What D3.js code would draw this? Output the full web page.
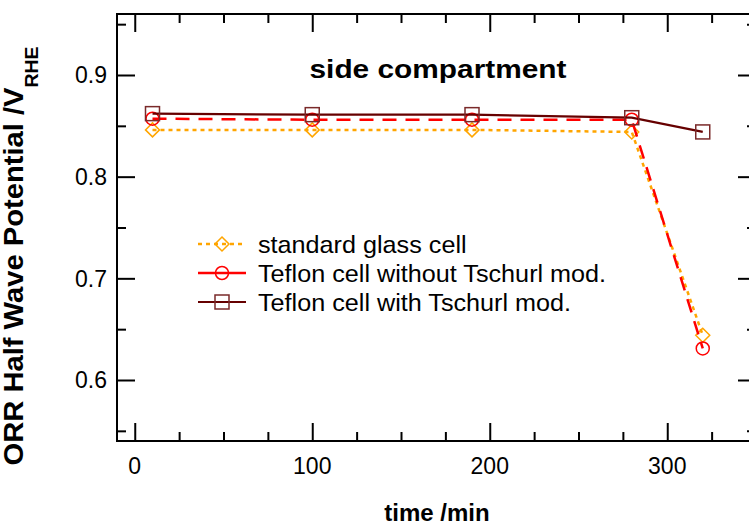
<!DOCTYPE html>
<html>
<head>
<meta charset="utf-8">
<script src="https://cdn.jsdelivr.net/npm/d3@7"></script>
<style>
  html, body { margin: 0; padding: 0; background: #fff; }
  svg { display: block; font-family: "Liberation Sans", Arial, Helvetica, sans-serif; }
</style>
</head>
<body>
<svg id="chart" width="749" height="527"></svg>
<script>
// ---- data ----
const times = [10, 100, 190, 280, 320];
const standardGlass = [0.846, 0.846, 0.846, 0.844, 0.644];
const teflonWithout = [0.857, 0.856, 0.856, 0.856, 0.631];
const teflonWith = [0.862, 0.861, 0.861, 0.858, 0.844];
const seriesNames = ["standard glass cell", "Teflon cell without Tschurl mod.", "Teflon cell with Tschurl mod."];
const xMajorTicks = [0, 100, 200, 300];
const yMajorTicks = [0.6, 0.7, 0.8, 0.9];
const titleText = "side compartment";
const xLabel = "time /min";
const yLabelMain = "ORR Half Wave Potential /V";
const yLabelSub = "RHE";

const svg = d3.select("#chart");
const L = 117, R = 756, T = 14, B = 441;
const x = d3.scaleLinear().domain([-10, 350]).range([L, R]);
const y = d3.scaleLinear().domain([0.54, 0.96]).range([B, T]);

const xMinor = d3.range(0, 351, 25).filter(v => !xMajorTicks.includes(v));
const yMinor = [0.55, 0.65, 0.75, 0.85, 0.95];

// axes (library axes, ticks pointing inward)
const major = 18, minor = 9;
function styleAxis(g) {
  g.select(".domain").remove();
  g.selectAll(".tick line").attr("stroke", "#000").attr("stroke-width", 2);
  g.selectAll(".tick text").remove();
}
svg.append("g").attr("transform", `translate(0,${B})`)
  .call(d3.axisBottom(x).tickValues(xMajorTicks).tickSize(-major)).call(styleAxis);
svg.append("g").attr("transform", `translate(0,${B})`)
  .call(d3.axisBottom(x).tickValues(xMinor).tickSize(-minor)).call(styleAxis);
svg.append("g").attr("transform", `translate(0,${T})`)
  .call(d3.axisTop(x).tickValues(xMajorTicks).tickSize(-major)).call(styleAxis);
svg.append("g").attr("transform", `translate(0,${T})`)
  .call(d3.axisTop(x).tickValues(xMinor).tickSize(-minor)).call(styleAxis);
svg.append("g").attr("transform", `translate(${L},0)`)
  .call(d3.axisLeft(y).tickValues(yMajorTicks).tickSize(-major)).call(styleAxis);
svg.append("g").attr("transform", `translate(${L},0)`)
  .call(d3.axisLeft(y).tickValues(yMinor).tickSize(-minor)).call(styleAxis);
svg.append("g").attr("transform", `translate(${R},0)`)
  .call(d3.axisRight(y).tickValues(yMajorTicks).tickSize(-major)).call(styleAxis);
svg.append("g").attr("transform", `translate(${R},0)`)
  .call(d3.axisRight(y).tickValues(yMinor).tickSize(-minor)).call(styleAxis);

// frame
svg.append("rect").attr("x", L).attr("y", T).attr("width", R - L).attr("height", B - T)
  .attr("fill", "none").attr("stroke", "#000").attr("stroke-width", 2);

// tick labels
svg.append("g").selectAll("text").data(xMajorTicks).join("text")
  .attr("x", d => x(d)).attr("y", 474).attr("text-anchor", "middle")
  .attr("font-size", 23).attr("fill", "#000").text(d => d);
svg.append("g").selectAll("text").data(yMajorTicks).join("text")
  .attr("x", 107).attr("y", d => y(d)).attr("dy", "0.36em").attr("text-anchor", "end")
  .attr("font-size", 23).attr("fill", "#000").text(d => d.toFixed(1));

// axis titles
svg.append("text").attr("x", 437).attr("y", 521).attr("text-anchor", "middle")
  .attr("font-size", 24).attr("font-weight", "bold").attr("fill", "#000").text(xLabel);

const yl = svg.append("text")
  .attr("transform", "translate(23,256) rotate(-90) scale(1.08,1)")
  .attr("text-anchor", "middle").attr("font-size", 27).attr("font-weight", "bold").attr("fill", "#000");
yl.append("tspan").text(yLabelMain);
yl.append("tspan").attr("font-size", 18).attr("dy", 15).text(yLabelSub);

// title
svg.append("text").attr("x", 438).attr("y", 78).attr("text-anchor", "middle")
  .attr("font-size", 26).attr("font-weight", "bold").attr("fill", "#000")
  .attr("textLength", 257).attr("lengthAdjust", "spacingAndGlyphs").text(titleText);

// series
const series = [
  { name: seriesNames[0], values: standardGlass, line: "#FFA500", marker: "#FFA500", dash: "4,4", shape: "diamond", lw: 2.5 },
  { name: seriesNames[1], values: teflonWithout, line: "#FF0000", marker: "#FF0000", dash: "14,9", shape: "circle", lw: 2.5 },
  { name: seriesNames[2], values: teflonWith, line: "#660000", marker: "#7A2A2A", dash: null, shape: "square", lw: 2.2 }
];

const lineGen = d3.line().x(d => x(d[0])).y(d => y(d[1]));

function drawMarker(g, shape, cx, cy, color) {
  if (shape === "circle") {
    g.append("circle").attr("cx", cx).attr("cy", cy).attr("r", 6.5)
      .attr("fill", "none").attr("stroke", color).attr("stroke-width", 1.5);
  } else if (shape === "square") {
    g.append("rect").attr("x", cx - 7).attr("y", cy - 7).attr("width", 14).attr("height", 14)
      .attr("fill", "none").attr("stroke", color).attr("stroke-width", 1.5);
  } else {
    const s = 7;
    g.append("path").attr("d", `M${cx},${cy - s}L${cx + s},${cy}L${cx},${cy + s}L${cx - s},${cy}Z`)
      .attr("fill", "none").attr("stroke", color).attr("stroke-width", 1.5);
  }
}

series.forEach(s => {
  const pts = times.map((t, i) => [t, s.values[i]]);
  const g = svg.append("g");
  g.append("path").attr("d", lineGen(pts)).attr("fill", "none")
    .attr("stroke", s.line).attr("stroke-width", s.lw)
    .attr("stroke-dasharray", s.dash);
  pts.forEach(p => drawMarker(g, s.shape, x(p[0]), y(p[1]), s.marker));
});

// legend
const legY = [244, 273, 302];
series.forEach((s, i) => {
  const g = svg.append("g");
  const yy = legY[i];
  g.append("line").attr("x1", 198).attr("x2", 246).attr("y1", yy).attr("y2", yy)
    .attr("stroke", s.line).attr("stroke-width", s.lw)
    .attr("stroke-dasharray", s.shape === "diamond" ? s.dash : null);
  drawMarker(g, s.shape, 222, yy, s.marker);
  g.append("text").attr("transform", `translate(258,${yy}) scale(1.05,1)`).attr("dy", "0.36em")
    .attr("font-size", 24).attr("fill", "#000").text(s.name);
});
</script>
</body>
</html>
